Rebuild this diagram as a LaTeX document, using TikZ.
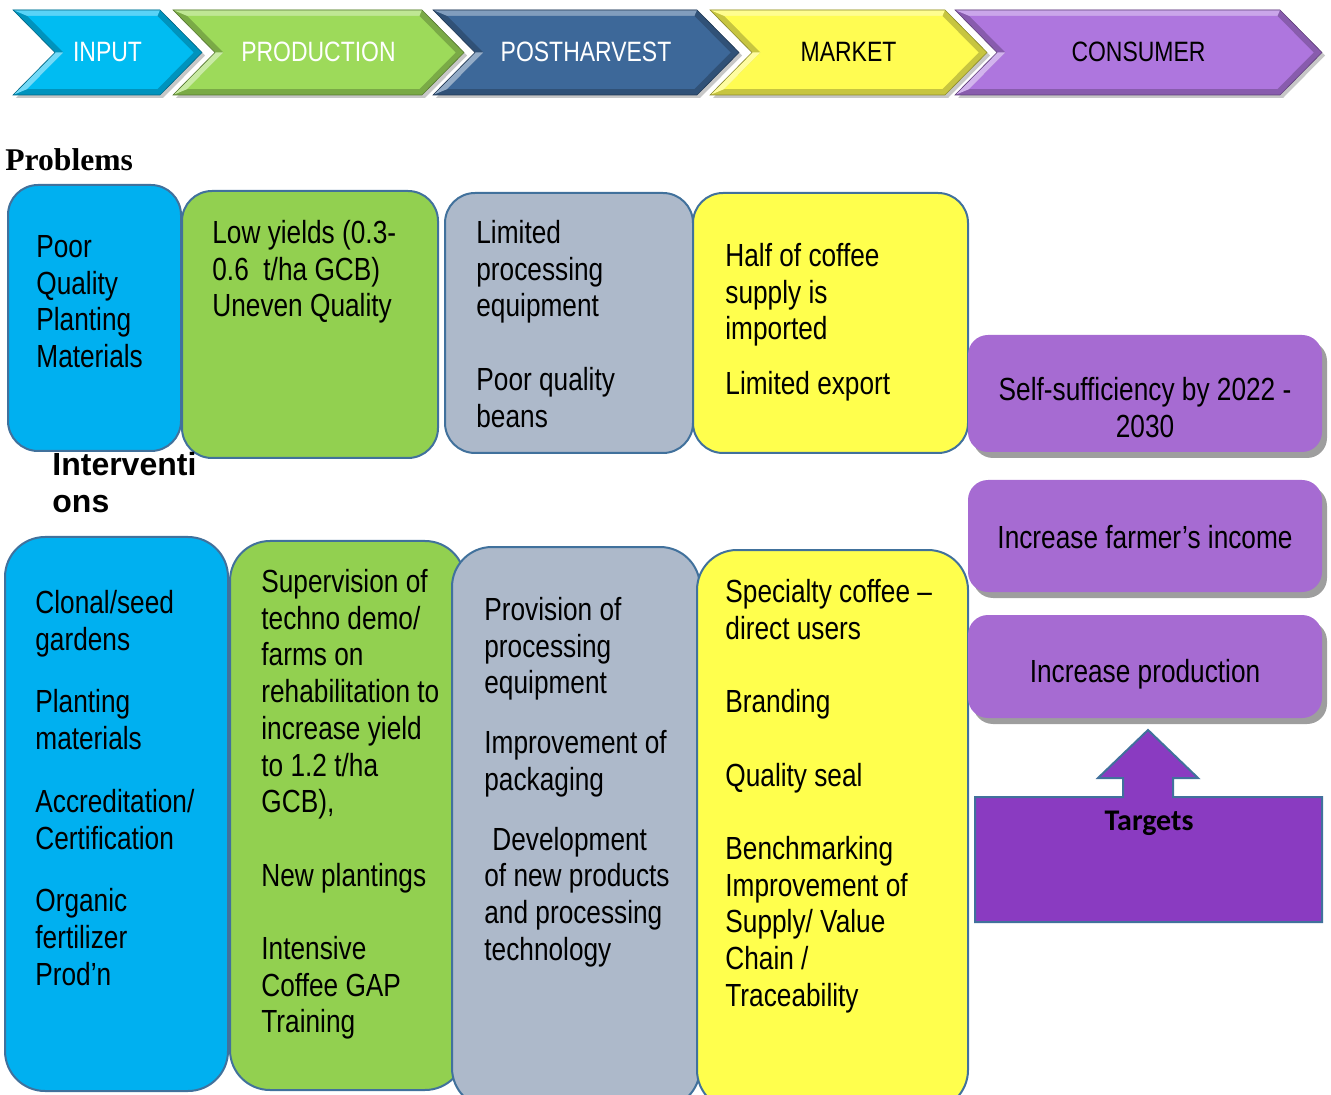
\documentclass[tikz,border=0pt]{standalone}
\usepackage{fontspec}
\setmainfont{Liberation Sans}[FakeStretch=0.82]
\newfontfamily\widesans{Liberation Sans}
\newfontfamily\timesbf{Liberation Serif}
\newfontfamily\calibri{Carlito}
\usetikzlibrary{positioning}
\definecolor{vcinput}{HTML}{00BCF2}
\definecolor{vcprod}{HTML}{9DDA5A}
\definecolor{vcpost}{HTML}{3D6899}
\definecolor{vcmarket}{HTML}{FFFC52}
\definecolor{vcconsumer}{HTML}{AE76DE}
\definecolor{vcblue}{HTML}{00B0F0}
\definecolor{vcgreen}{HTML}{92D050}
\definecolor{vcgrey}{HTML}{ADB9CA}
\definecolor{vcyellow}{HTML}{FFFF4D}
\definecolor{vcpurple}{HTML}{A66BD2}
\definecolor{vctarget}{HTML}{8A3BC1}
\definecolor{vcedge}{HTML}{41719C}
\definecolor{vcshadow}{HTML}{9E9E9E}

% bevelled chevron: #1 left x, #2 shoulder x, #3 colour, #4 name, #5 text colour, #6 label
\newcommand\chevron[6]{%
  \fill[black!22, xshift=1.5pt, yshift=-1.5pt] (#1,10) -- (#2,10) -- ({#2+42},52.5)
    -- (#2,95) -- (#1,95) -- ({#1+42},52.5) -- cycle;
  \fill[#3!78!black] (#1,10) -- (#2,10) -- ({#2+42},52.5) -- (#2,95) -- (#1,95)
    -- ({#1+42},52.5) -- cycle;
  \fill[#3!65!white] (#1,10) -- (#2,10) -- ({#2-2.6},16) -- ({#1+14.4},16) -- cycle;
  \fill[#3!55!white] ({#1+42},52.5) -- (#1,95) -- ({#1+14.4},89) -- ({#1+50.5},52.5) -- cycle;
  \fill[#3] ({#1+14.4},16) -- ({#2-2.6},16) -- ({#2+33.5},52.5) -- ({#2-2.6},89)
    -- ({#1+14.4},89) -- ({#1+50.5},52.5) -- cycle;
  \draw[#3!55!black, line width=0.3pt] (#1,10) -- (#2,10) -- ({#2+42},52.5) -- (#2,95)
    -- (#1,95) -- ({#1+42},52.5) -- cycle;
  \node[head, text=#5] (#4) at ({(#1+#2)/2+21},52) {#6};
}

\begin{document}
\begin{tikzpicture}[x=0.5pt, y=-0.5pt,
  pbox/.style={draw=vcedge, line width=1pt, rounded corners=15pt},
  ibox/.style={pbox, rounded corners=20pt},
  tbox/.style={fill=vcpurple, rounded corners=10pt},
  shade/.style={fill=vcshadow, rounded corners=10pt},
  txt/.style={anchor=north west, inner sep=0pt, align=left,
    font=\fontsize{16}{18.35}\selectfont},
  ctxt/.style={inner sep=0pt, align=center, font=\fontsize{16}{18.5}\selectfont},
  head/.style={inner sep=0pt, font=\fontsize{14}{16}\selectfont},
  title/.style={anchor=north west, inner sep=0pt, align=left}]
\useasboundingbox (0,0) rectangle (1331,1095);
\clip (0,0) rectangle (1331,1095);

% value chain stages
\chevron{13}{160}{vcinput}{input}{white}{INPUT}
\chevron{173}{422}{vcprod}{prod}{white}{PRODUCTION}
\chevron{433}{697}{vcpost}{post}{white}{POSTHARVEST}
\chevron{710}{945}{vcmarket}{market}{black}{MARKET}
\chevron{955}{1280}{vcconsumer}{consumer}{black}{CONSUMER}

% problems
\node[title, font=\timesbf\bfseries\fontsize{15.8}{18}\selectfont] (problems) at (5,148) {Problems};
\draw[pbox, fill=vcblue] (8,185) rectangle (181,451);
\draw[pbox, fill=vcgreen] (182,191) rectangle (438,458);
\draw[pbox, fill=vcgrey] (445,193) rectangle (693,453);
\draw[pbox, fill=vcyellow] (693,193) rectangle (968,453);
\node[txt] (pinput) at (36,235) {Poor\\Quality\\Planting\\Materials};
\node[txt] (pprod) at (212,220) {Low yields (0.3-\\0.6\ \ t/ha GCB)\\Uneven Quality};
\node[txt] (ppost) at (476,220) {Limited\\processing\\equipment\\[18.35pt]Poor quality\\beans};
\node[txt] (pmarket) at (725,243) {Half of coffee\\supply is\\imported\\[9pt]Limited export};

% interventions
\node[title, font=\widesans\bfseries\fontsize{16}{18.5}\selectfont] (interv) at (52,452)
  {Interventi\\ons};
\draw[ibox, fill=vcblue] (5,537) rectangle (228,1091);
\draw[ibox, fill=vcgreen] (230,541) rectangle (465,1090);
\draw[ibox, fill=vcgrey] (452,547) rectangle (700,1108);
\draw[ibox, fill=vcyellow] (697,550) rectangle (968,1110);
\node[txt] (iinput) at (35,590) {Clonal/seed\\gardens\\[13pt]Planting\\materials\\[13pt]%
  Accreditation/\\Certification\\[13pt]Organic\\fertilizer\\Prod’n};
\node[txt] (iprod) at (261,569) {Supervision of\\techno demo/\\farms on\\rehabilitation to\\%
  increase yield\\to 1.2 t/ha\\GCB),\\[18.35pt]New plantings\\[18.35pt]Intensive\\%
  Coffee GAP\\Training};
\node[txt] (ipost) at (484,597) {Provision of\\processing\\equipment\\[11.5pt]%
  Improvement of\\packaging\\[11.5pt]\hspace*{4pt}Development\\of new products\\%
  and processing\\technology};
\node[txt] (imarket) at (725,579) {Specialty coffee –\\direct users\\[18.35pt]Branding\\[18.35pt]%
  Quality seal\\[18.35pt]Benchmarking\\Improvement of\\Supply/ Value\\Chain /\\Traceability};

% targets
\fill[shade] (973,341) rectangle (1327,458);
\fill[tbox] (968,335) rectangle (1322,452);
\fill[shade] (973,486) rectangle (1327,598);
\fill[tbox] (968,480) rectangle (1322,592);
\fill[shade] (973,621) rectangle (1327,724);
\fill[tbox] (968,615) rectangle (1322,718);
\node[ctxt] (self) at (1145,408) {Self-sufficiency by 2022 -\\2030};
\node[ctxt] (income) at (1145,537) {Increase farmer’s income};
\node[ctxt] (output) at (1145,674) {Increase production};
\draw[fill=vctarget, draw=vcedge, line width=1pt] (975,797) -- (1123,797) -- (1123,778)
  -- (1098,778) -- (1148,730) -- (1198,778) -- (1173,778) -- (1173,797) -- (1322,797)
  -- (1322,922) -- (975,922) -- cycle;
\node[inner sep=0pt, font=\calibri\bfseries\fontsize{15}{18}\selectfont] (targets)
  at (1149,823) {Targets};
\end{tikzpicture}
\end{document}
